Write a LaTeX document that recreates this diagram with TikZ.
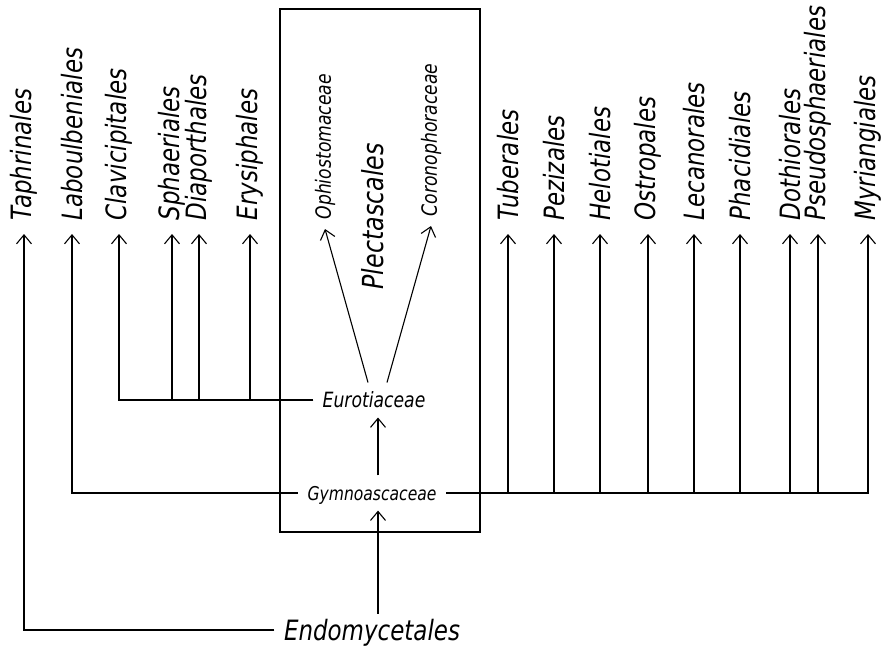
\documentclass[tikz,border=0pt]{standalone}
\usepackage{fontspec}
\newfontfamily\lettering{DejaVu Sans}[FakeStretch=0.82]
\usetikzlibrary{arrows.meta}

\begin{document}
\begin{tikzpicture}[x=1pt,y=-1pt,line width=1.1pt,
  order/.style={rotate=90,anchor=west,inner xsep=13pt,inner ysep=0pt,
    font=\lettering\itshape\fontsize{28pt}{28pt}\selectfont},
  fam/.style={rotate=90,anchor=west,inner xsep=9pt,inner ysep=0pt,
    font=\lettering\itshape\fontsize{21pt}{21pt}\selectfont},
  label/.style={inner xsep=9pt,inner ysep=9pt,text depth=0pt,
    font=\lettering\itshape\fontsize{21pt}{21pt}\selectfont},
  link/.style={-{Straight Barb[length=9pt,width=15pt]}}]
  \useasboundingbox (0,0) rectangle (883,650);

  % the Plectascales box
  \draw[line width=2pt] (280,9) rectangle (480,532);

  \node (endo) [label,inner ysep=5pt,font=\lettering\itshape\fontsize{28pt}{28pt}\selectfont] at (372,630) {Endomycetales};
  \node (gymno) [label,inner ysep=10pt,font=\lettering\itshape\fontsize{19pt}{19pt}\selectfont] at (372,493) {Gymnoascaceae};
  \node (euro) [label] at (374,400) {Eurotiaceae};
  \coordinate (axis) at (378,0);

  \node (plect) [order,inner xsep=0pt,font=\lettering\itshape\fontsize{29pt}{29pt}\selectfont] at (373,290) {Plectascales};
  \node (ophio) [fam] at (325,229) {Ophiostomaceae};
  \node (corono) [fam] at (431,226) {Coronophoraceae};

  % orders on the left
  \node (taph) [order] at (24,234) {Taphrinales};
  \node (labou) [order] at (72,234) {Laboulbeniales};
  \node (clav) [order] at (119,234) {Clavicipitales};
  \node (sphae) [order] at (172,234) {Sphaeriales};
  \node (diap) [order] at (199,234) {Diaporthales};
  \node (erys) [order] at (250,234) {Erysiphales};

  % orders on the right
  \node (tuber) [order] at (508,234) {Tuberales};
  \node (pezi) [order] at (554,234) {Pezizales};
  \node (helo) [order] at (600,234) {Helotiales};
  \node (ostro) [order] at (648,234) {Ostropales};
  \node (leca) [order] at (694,234) {Lecanorales};
  \node (phaci) [order] at (740,234) {Phacidiales};
  \node (doth) [order] at (790,234) {Dothiorales};
  \node (pseudo) [order] at (818,234) {Pseudosphaeriales};
  \node (myri) [order] at (868,234) {Myriangiales};

  \draw[link] (endo.west) -| (taph);
  \draw[link] (endo.north -| axis) -- (gymno.south -| axis);
  \draw[link] (gymno.north -| axis) -- (euro.south -| axis);

  \draw[link] (gymno.west) -| (labou);
  \draw[link] (gymno.east) -| (tuber);
  \draw[link] (gymno.east) -| (pezi);
  \draw[link] (gymno.east) -| (helo);
  \draw[link] (gymno.east) -| (ostro);
  \draw[link] (gymno.east) -| (leca);
  \draw[link] (gymno.east) -| (phaci);
  \draw[link] (gymno.east) -| (doth);
  \draw[link] (gymno.east) -| (pseudo);
  \draw[link] (gymno.east) -| (myri);

  \draw[link] (euro.west) -| (clav);
  \draw[link] (euro.west) -| (sphae);
  \draw[link] (euro.west) -| (diap);
  \draw[link] (euro.west) -| (erys);

  \draw[link] ([xshift=-6pt]euro.north) -- (ophio.west);
  \draw[link] ([xshift=13pt]euro.north) -- (corono.west);

\end{tikzpicture}
\end{document}
